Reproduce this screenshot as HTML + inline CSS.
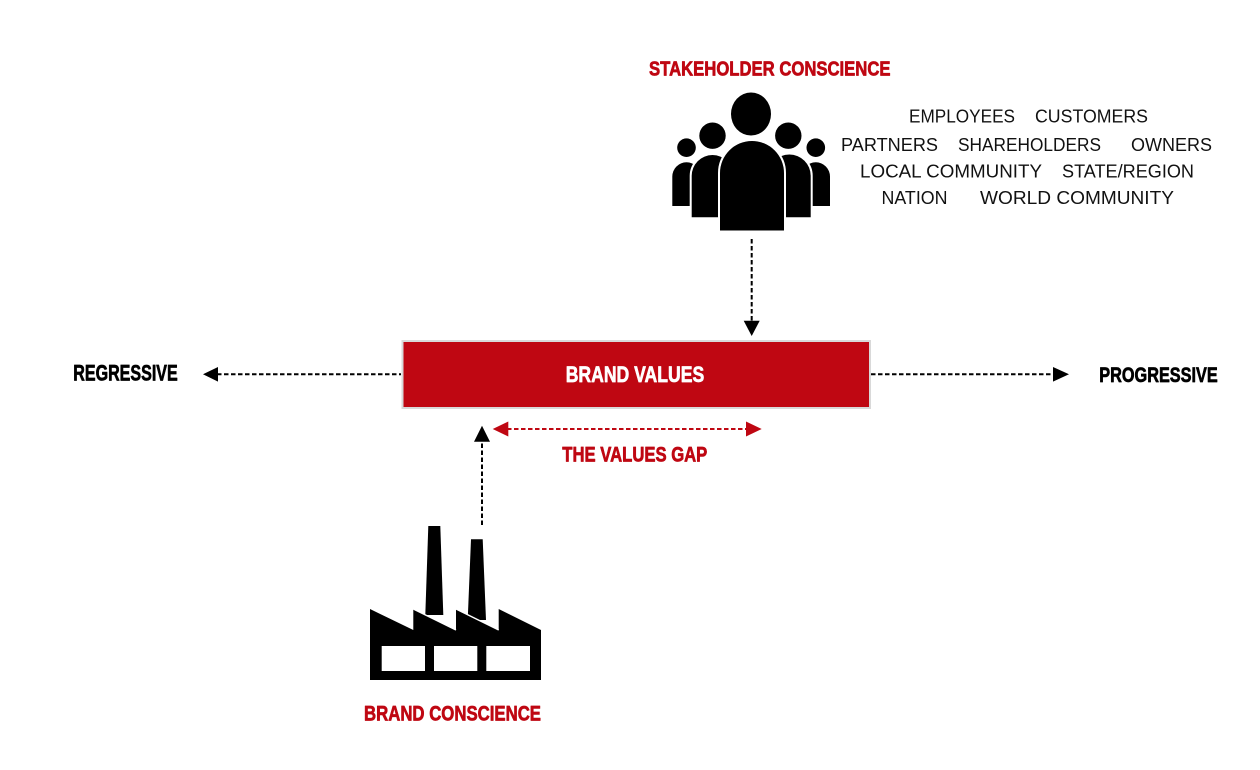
<!DOCTYPE html>
<html>
<head>
<meta charset="utf-8">
<style>
  html, body { margin:0; padding:0; background:#fff; }
  svg { display:block; }
  .hb { font-family:"Liberation Sans", sans-serif; font-weight:bold; stroke-width:0.7; stroke-linejoin:round; }
  .rg { font-family:"Liberation Sans", sans-serif; font-weight:normal; fill:#111; }
</style>
</head>
<body>
<svg width="1260" height="770" viewBox="0 0 1260 770" xmlns="http://www.w3.org/2000/svg">
  <rect width="1260" height="770" fill="#fff"/>

  <!-- Title -->
  <text class="hb" x="649" y="75.7" font-size="20.5" fill="#bf0712" stroke="#bf0712" textLength="241.5" lengthAdjust="spacingAndGlyphs">STAKEHOLDER CONSCIENCE</text>

  <!-- People icon -->
  <g fill="#000" stroke="#fff" stroke-width="4" paint-order="stroke">
    <path d="M672.3,206 L672.3,176.5 A14.2,14.2 0 0 1 700.7,176.5 L700.7,206 Z"/>
    <path d="M801.6,206 L801.6,176.5 A14.2,14.2 0 0 1 830,176.5 L830,206 Z"/>
    <circle cx="686.5" cy="147.7" r="9.3"/>
    <circle cx="815.8" cy="147.7" r="9.3"/>
    <path d="M691.7,217.3 L691.7,175.8 A20.8,20.8 0 0 1 733.3,175.8 L733.3,217.3 Z"/>
    <path d="M768,217.3 L768,175.8 A20.8,20.8 0 0 1 810.7,175.8 L810.7,217.3 Z"/>
    <circle cx="712.5" cy="135.7" r="13.2"/>
    <circle cx="788.3" cy="135.7" r="13.2"/>
    <path d="M720,230.5 L720,173 A32,32 0 0 1 784,173 L784,230.5 Z"/>
    <ellipse cx="751" cy="114" rx="20" ry="21.5"/>
  </g>

  <!-- Stakeholder list -->
  <g font-size="18">
    <text class="rg" x="909" y="122.5" textLength="106" lengthAdjust="spacingAndGlyphs">EMPLOYEES</text>
    <text class="rg" x="1035" y="122.5" textLength="113" lengthAdjust="spacingAndGlyphs">CUSTOMERS</text>
    <text class="rg" x="841" y="151" textLength="97" lengthAdjust="spacingAndGlyphs">PARTNERS</text>
    <text class="rg" x="958" y="151" textLength="143" lengthAdjust="spacingAndGlyphs">SHAREHOLDERS</text>
    <text class="rg" x="1131" y="151" textLength="81" lengthAdjust="spacingAndGlyphs">OWNERS</text>
    <text class="rg" x="860" y="177.5" textLength="182" lengthAdjust="spacingAndGlyphs">LOCAL COMMUNITY</text>
    <text class="rg" x="1062" y="177.5" textLength="132" lengthAdjust="spacingAndGlyphs">STATE/REGION</text>
    <text class="rg" x="881.5" y="204" textLength="66" lengthAdjust="spacingAndGlyphs">NATION</text>
    <text class="rg" x="980" y="204" textLength="194" lengthAdjust="spacingAndGlyphs">WORLD COMMUNITY</text>
  </g>

  <!-- Down arrow -->
  <line x1="751.7" y1="239" x2="751.7" y2="321" stroke="#000" stroke-width="2" stroke-dasharray="4.5 2.5"/>
  <polygon points="743.7,320.7 759.7,320.7 751.7,336" fill="#000"/>

  <!-- Brand values box -->
  <rect x="402.5" y="341" width="467.5" height="67" fill="#bf0712" stroke="#d9d9d9" stroke-width="2"/>
  <text class="hb" x="565.7" y="382" font-size="22.5" fill="#fff" stroke="#fff" textLength="138.5" lengthAdjust="spacingAndGlyphs">BRAND  VALUES</text>

  <!-- Left arrow -->
  <line x1="217" y1="374.3" x2="401" y2="374.3" stroke="#000" stroke-width="2" stroke-dasharray="4.5 2.5"/>
  <polygon points="203,374.3 218,367 218,381.6" fill="#000"/>
  <text class="hb" x="73.3" y="380.3" font-size="22" fill="#000" stroke="#000" textLength="104.4" lengthAdjust="spacingAndGlyphs">REGRESSIVE</text>

  <!-- Right arrow -->
  <line x1="871" y1="374.3" x2="1054" y2="374.3" stroke="#000" stroke-width="2" stroke-dasharray="4.5 2.5"/>
  <polygon points="1069,374.3 1053,367 1053,381.6" fill="#000"/>
  <text class="hb" x="1099.3" y="382" font-size="21.5" fill="#000" stroke="#000" textLength="118.4" lengthAdjust="spacingAndGlyphs">PROGRESSIVE</text>

  <!-- Values gap arrow -->
  <line x1="507" y1="429" x2="747" y2="429" stroke="#bf0712" stroke-width="2" stroke-dasharray="4.5 2.5"/>
  <polygon points="492.7,429 508.3,421.5 508.3,436.5" fill="#bf0712"/>
  <polygon points="761.7,429 746,421.5 746,436.5" fill="#bf0712"/>
  <text class="hb" x="562.3" y="461.7" font-size="21" fill="#bf0712" stroke="#bf0712" textLength="145" lengthAdjust="spacingAndGlyphs">THE VALUES GAP</text>

  <!-- Up arrow -->
  <line x1="482" y1="525" x2="482" y2="440" stroke="#000" stroke-width="2" stroke-dasharray="4.5 2.5"/>
  <polygon points="482,425.7 474,441.7 490,441.7" fill="#000"/>

  <!-- Factory icon -->
  <g fill="#000">
    <polygon points="428.3,526 440.3,526 443.3,615 425.3,615"/>
    <polygon points="471,539.3 482.7,539.3 486,620 467.7,620"/>
    <polygon points="370,609 413.3,630 413.3,609 456,630 456,609 498.7,630 498.7,609 541,630 541,680 370,680"/>
  </g>
  <g stroke="#fff" stroke-width="1.5" fill="none">
    <line x1="413.3" y1="609" x2="456" y2="630"/>
    <line x1="456" y1="609" x2="498.7" y2="630"/>
  </g>
  <g fill="#fff">
    <rect x="381.7" y="646" width="43.3" height="25"/>
    <rect x="434" y="646" width="43.3" height="25"/>
    <rect x="486.3" y="646" width="43.7" height="25"/>
  </g>
  <text class="hb" x="364" y="720.7" font-size="21" fill="#bf0712" stroke="#bf0712" textLength="177" lengthAdjust="spacingAndGlyphs">BRAND CONSCIENCE</text>
</svg>
</body>
</html>
